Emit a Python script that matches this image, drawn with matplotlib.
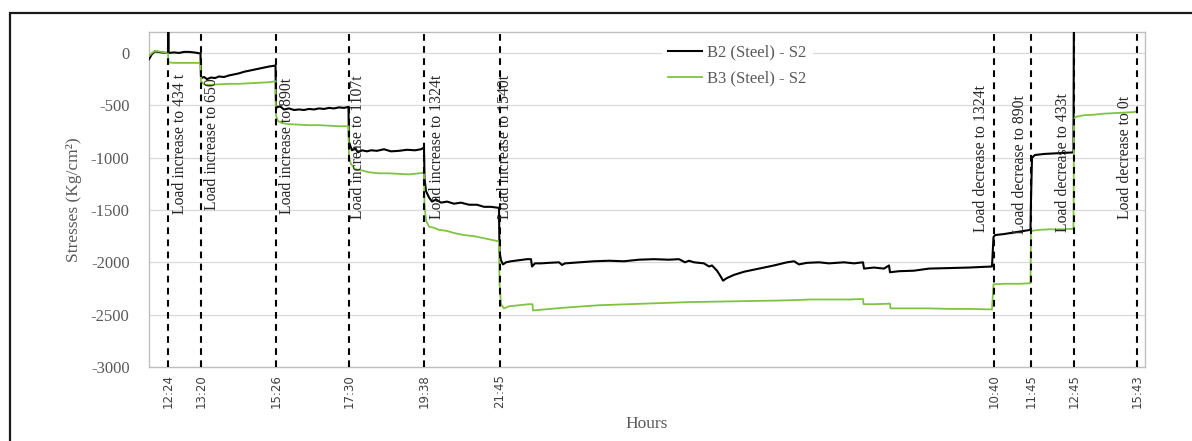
import matplotlib.pyplot as plt
from matplotlib.patches import Rectangle

plt.rcParams['axes.unicode_minus'] = False

# sample position along the record (overnight gap compressed) and stresses in Kg/cm2
b2_x = [0, 3, 6, 9, 13, 17, 19, 19.3, 19.6, 25, 30, 35, 40, 45, 51.5,
        52, 55, 58, 62, 66, 70, 75, 80, 85, 90, 95, 100, 105, 110, 115, 120, 126.5,
        127, 128, 131, 135, 140, 145, 150, 155, 160, 165, 170, 175, 180, 185, 190, 195, 199.5,
        200, 201, 203, 206, 209, 213, 218, 222, 228, 235, 242, 250, 258, 266, 272, 275,
        275.5, 277, 280, 283, 287, 292, 298, 305, 312, 320, 328, 335, 342, 350,
        350.5, 352, 354, 357, 362, 370, 378, 382, 383, 386, 392, 400, 410, 413, 416, 430,
        445, 460, 475, 490, 505, 520, 530, 536, 540, 545, 555, 560, 563, 568, 572, 574,
        578, 585, 595, 610, 625, 638, 645, 650, 658, 670, 680, 695, 705, 714, 715, 725,
        735, 740, 741, 750, 765, 780, 800, 820, 843,
        844.5, 846, 855, 865, 875, 881.5,
        882, 883, 886, 895, 905, 915, 924.5,
        925, 988]
b2_y = [-60, -10, 15, 10, 5, 0, 0, 700, 0, 5, 0, 10, 10, 5, -5,
        -240, -230, -250, -235, -240, -225, -230, -215, -205, -195, -180, -170, -160, -150, -140, -130, -120,
        -500, -520, -510, -540, -530, -545, -540, -545, -535, -540, -530, -535, -525, -530, -520, -525, -515,
        -850, -880, -930, -910, -950, -930, -940, -930, -935, -920, -940, -935, -925, -930, -920, -905,
        -1200, -1320, -1380, -1420, -1400, -1430, -1420, -1440, -1430, -1450, -1450, -1470, -1470, -1480,
        -1900, -1980, -2020, -2000, -1990, -1980, -1970, -1970, -2040, -2010, -2010, -2005, -2000, -2025, -2010, -2000,
        -1990, -1985, -1990, -1975, -1970, -1975, -1970, -2000, -1985, -2000, -2010, -2040, -2030, -2080, -2140, -2175,
        -2150, -2120, -2090, -2060, -2030, -2000, -1990, -2020, -2005, -2000, -2010, -2000, -2010, -2000, -2060, -2050,
        -2060, -2030, -2095, -2085, -2080, -2060, -2055, -2050, -2040,
        -1760, -1740, -1730, -1715, -1700, -1690,
        -1400, -1000, -975, -965, -960, -955, -950,
        700, 700]

b3_x = [0, 3, 6, 9, 13, 17, 19, 19.5, 25, 35, 45, 51.5,
        52, 55, 60, 70, 80, 90, 100, 110, 120, 126.5,
        127, 129, 133, 140, 150, 160, 170, 180, 190, 199.5,
        200, 202, 206, 212, 220, 230, 240, 250, 260, 270, 275,
        275.5, 277, 280, 285, 290, 298, 305, 315, 325, 335, 345, 350,
        350.5, 352, 355, 360, 370, 380, 383.5, 384, 395, 420, 450, 480, 510, 540, 570,
        600, 630, 650, 660, 680, 700, 714, 714.5, 725, 741, 741.5, 760, 780, 800, 820, 843,
        844.5, 855, 870, 881.5,
        882, 890, 900, 910, 924.5,
        925, 927, 935, 945, 955, 965, 975, 985, 988]
b3_y = [-30, 0, 20, 15, 10, 0, 0, -90, -95, -95, -95, -95,
        -270, -300, -305, -300, -295, -295, -290, -285, -280, -270,
        -600, -650, -670, -680, -685, -690, -690, -695, -700, -700,
        -1000, -1060, -1110, -1120, -1140, -1150, -1150, -1155, -1160, -1150, -1145,
        -1450, -1600, -1660, -1670, -1690, -1700, -1720, -1740, -1750, -1770, -1790, -1800,
        -2200, -2400, -2440, -2420, -2410, -2400, -2400, -2460, -2450, -2430, -2410, -2400, -2390, -2380, -2375,
        -2370, -2365, -2360, -2355, -2355, -2355, -2350, -2400, -2400, -2395, -2440, -2440, -2440, -2445, -2445, -2450,
        -2210, -2205, -2205, -2200,
        -1700, -1690, -1685, -1685, -1680,
        -630, -610, -595, -590, -580, -575, -570, -565, -555]

event_x = [19, 52, 127, 200, 275.3, 351, 844.7, 882.3, 925, 988.3]
event_times = ['12:24', '13:20', '15:26', '17:30', '19:38', '21:45',
               '10:40', '11:45', '12:45', '15:43']
event_labels = ['Load increase to 434 t', 'Load increase to 650', 'Load increase to 890t',
                'Load increase to 1107t', 'Load increase to 1324t', 'Load increase to 1540t',
                'Load decrease to 1324t', 'Load decrease to 890t', 'Load decrease to 433t',
                'Load decrease to 0t']
# label placement: shift from its line and where the text starts
label_dx = [12, 11, 11, 9, 13, 5, -13, -11, -11, -12]
label_y0 = [-1535, -1500, -1535, -1585, -1585, -1585, -1715, -1725, -1715, -1585]

GREEN = '#80C342'
GREY = '#595959'
SERIF = 'Liberation Serif'

fig = plt.figure(figsize=(11.92, 4.41), dpi=100)
ax = fig.add_axes([149 / 1192, 1 - 367 / 441, 996 / 1192, 335 / 441])

ax.plot(b2_x, b2_y, color='black', lw=1.5, label='B2 (Steel) - S2', zorder=3)
ax.plot(b3_x, b3_y, color=GREEN, lw=1.3, label='B3 (Steel) - S2', zorder=3)

for x, txt, dx, y0 in zip(event_x, event_labels, label_dx, label_y0):
    ax.axvline(x, color='black', lw=1.5, linestyle=(0, (3.2, 2.6)), zorder=4)
    ax.text(x + dx, y0, txt, rotation=90, ha='center', va='bottom',
            fontsize=11.3, family=SERIF, color='#262626', zorder=5)

ax.set_xlim(0, 996)
ax.set_ylim(-3000, 200)
ax.set_yticks(range(-3000, 1, 500))
ax.set_xticks(event_x)
ax.set_xticklabels(event_times, rotation=90, fontsize=8.5, color='#404040',
                   family='DejaVu Sans')
for lab in ax.get_yticklabels():
    lab.set_family(SERIF)
    lab.set_fontsize(12)
    lab.set_color(GREY)
ax.tick_params(length=0, pad=5)
ax.tick_params(axis='y', pad=14)
ax.grid(axis='y', color='#D9D9D9', lw=0.9)
ax.set_axisbelow(True)
for sp in ax.spines.values():
    sp.set_color('#BFBFBF')
    sp.set_linewidth(1)

ax.set_ylabel('Stresses (Kg/cm²)', family=SERIF, fontsize=12.5, color=GREY, labelpad=6)
ax.set_xlabel('Hours', family=SERIF, fontsize=12.5, color=GREY, labelpad=6)

leg = ax.legend(loc='upper left', bbox_to_anchor=(0.509, 1.0), frameon=True,
                prop={'family': SERIF, 'size': 12}, handlelength=2.0,
                handletextpad=0.3, labelspacing=0.6, borderaxespad=0.35)
leg.get_frame().set_edgecolor('none')
leg.get_frame().set_facecolor('white')
leg.get_frame().set_alpha(1)
leg.set_zorder(2)
for t in leg.get_texts():
    t.set_color(GREY)

# outer frame around the whole figure
fig.patches.append(Rectangle((10 / 1192, -0.2), 1.2, 1.2 - 13 / 441,
                             transform=fig.transFigure, fill=False,
                             edgecolor='#1a1a1a', lw=1.6, clip_on=False))

fig.savefig('out.png', dpi=100)
plt.close()
